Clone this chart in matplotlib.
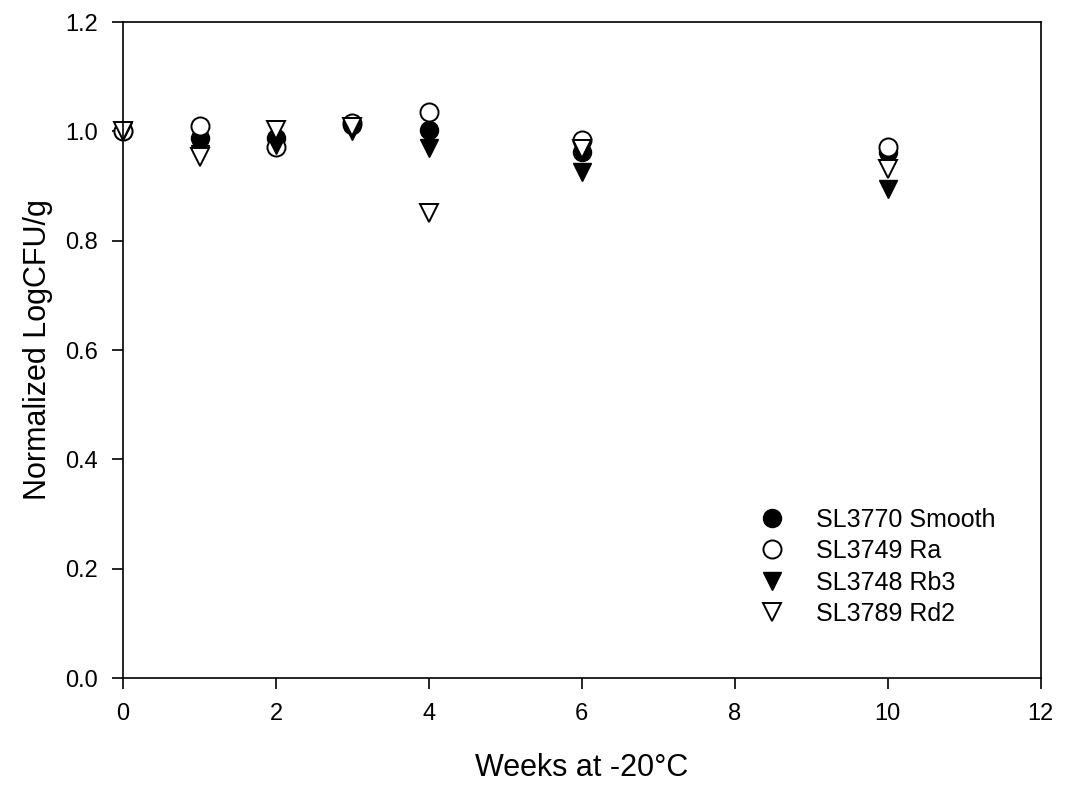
import matplotlib
matplotlib.use('Agg')
import matplotlib.pyplot as plt

plt.rcParams['font.family'] = ['Liberation Sans', 'DejaVu Sans']

weeks = [0, 1, 2, 3, 4, 6, 10]
smooth = [1.0, 0.987, 0.988, 1.012, 1.003, 0.963, 0.963]
ra = [1.0, 1.009, 0.972, 1.015, 1.035, 0.985, 0.972]
rb3 = [1.0, 0.958, 0.975, 1.0, 0.970, 0.925, 0.895]
rd2 = [1.0, 0.954, 1.002, 1.008, 0.850, 0.968, 0.932]

fig = plt.figure(figsize=(10.84, 7.87), dpi=100)
ax = fig.add_axes([0.1135, 0.1385, 0.8465, 0.8335])

ms = 13
ax.plot(weeks, smooth, 'o', color='black', markersize=ms, linestyle='none',
        clip_on=False, label='SL3770 Smooth')
ax.plot(weeks, ra, 'o', markerfacecolor='white', markeredgecolor='black', markeredgewidth=1.4,
        markersize=ms, linestyle='none', clip_on=False, label='SL3749 Ra')
ax.plot(weeks, rb3, 'v', color='black', markersize=ms, linestyle='none',
        clip_on=False, label='SL3748 Rb3')
ax.plot(weeks, rd2, 'v', markerfacecolor='white', markeredgecolor='black', markeredgewidth=1.4,
        markersize=ms, linestyle='none', clip_on=False, label='SL3789 Rd2')

ax.set_xlim(0, 12)
ax.set_ylim(0, 1.2)
ax.set_xticks(range(0, 13, 2))
ax.set_yticks([0.0, 0.2, 0.4, 0.6, 0.8, 1.0, 1.2])
ax.set_yticklabels(['0.0', '0.2', '0.4', '0.6', '0.8', '1.0', '1.2'])
ax.tick_params(direction='out', length=8, width=1.2, labelsize=17, pad=10)
for s in ax.spines.values():
    s.set_linewidth(1.2)

ax.set_xlabel('Weeks at -20°C', fontsize=22, labelpad=20)
ax.set_ylabel('Normalized LogCFU/g', fontsize=22, labelpad=9)

ax.legend(loc='upper left', bbox_to_anchor=(0.656, 0.294), frameon=False, fontsize=18,
          handletextpad=0.75, labelspacing=0.3)

fig.savefig('out.png', dpi=100)
